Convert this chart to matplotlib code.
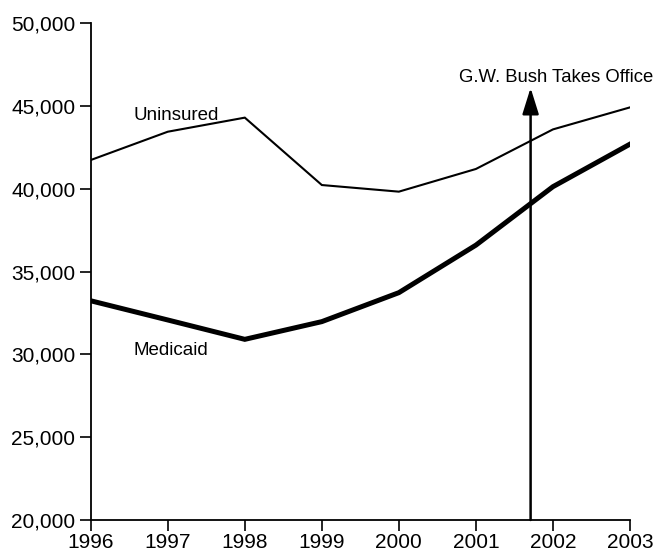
import matplotlib
matplotlib.use("Agg")
import matplotlib.pyplot as plt
from matplotlib.ticker import FuncFormatter


years = [1996, 1997, 1998, 1999, 2000, 2001, 2002, 2003]
uninsured = [41740, 43450, 44300, 40230, 39830, 41200, 43590, 44920]
medicaid = [33240, 32080, 30910, 31980, 33730, 36600, 40130, 42700]

bush_year = 2001.71
bush_label = "G.W. Bush Takes Office"


def configure_plot_font() -> None:
    plt.rcParams["font.family"] = ["Liberation Sans", "DejaVu Sans"]
    plt.rcParams["axes.unicode_minus"] = False


def make_chart() -> None:
    configure_plot_font()
    fig = plt.figure(figsize=(6.55, 5.54), dpi=100)
    ax = fig.add_axes([0.1385, 0.0614, 0.8233, 0.8966])

    ax.plot(years, uninsured, color="black", linewidth=1.5, solid_joinstyle="miter")
    ax.plot(years, medicaid, color="black", linewidth=3.6, solid_joinstyle="miter")

    ax.text(1996.55, 44450, "Uninsured", fontsize=13.5, va="center", ha="left")
    ax.text(1996.55, 30250, "Medicaid", fontsize=13.5, va="center", ha="left")

    ax.annotate(
        "",
        xy=(bush_year, 46100),
        xytext=(bush_year, 20000),
        arrowprops=dict(
            arrowstyle="-|>,head_length=0.8,head_width=0.25",
            mutation_scale=20,
            color="black",
            linewidth=1.8,
            shrinkA=0,
            shrinkB=0,
        ),
    )
    ax.text(2002.04, 46470, bush_label, fontsize=13.3, ha="center", va="baseline")

    ax.set_xlim(1996, 2003)
    ax.set_ylim(20000, 50000)
    ax.set_xticks(years)
    ax.set_yticks(range(20000, 50001, 5000))
    ax.yaxis.set_major_formatter(FuncFormatter(lambda v, p: f"{int(v):,}"))

    for side in ("top", "right"):
        ax.spines[side].set_visible(False)
    for side in ("left", "bottom"):
        ax.spines[side].set_linewidth(1.3)
    ax.tick_params(axis="both", direction="out", length=8, width=1.2, labelsize=15)
    ax.tick_params(axis="x", pad=1.5)
    ax.tick_params(axis="y", pad=3)

    fig.savefig("out.png", dpi=100)
    plt.close(fig)


if __name__ == "__main__":
    make_chart()
